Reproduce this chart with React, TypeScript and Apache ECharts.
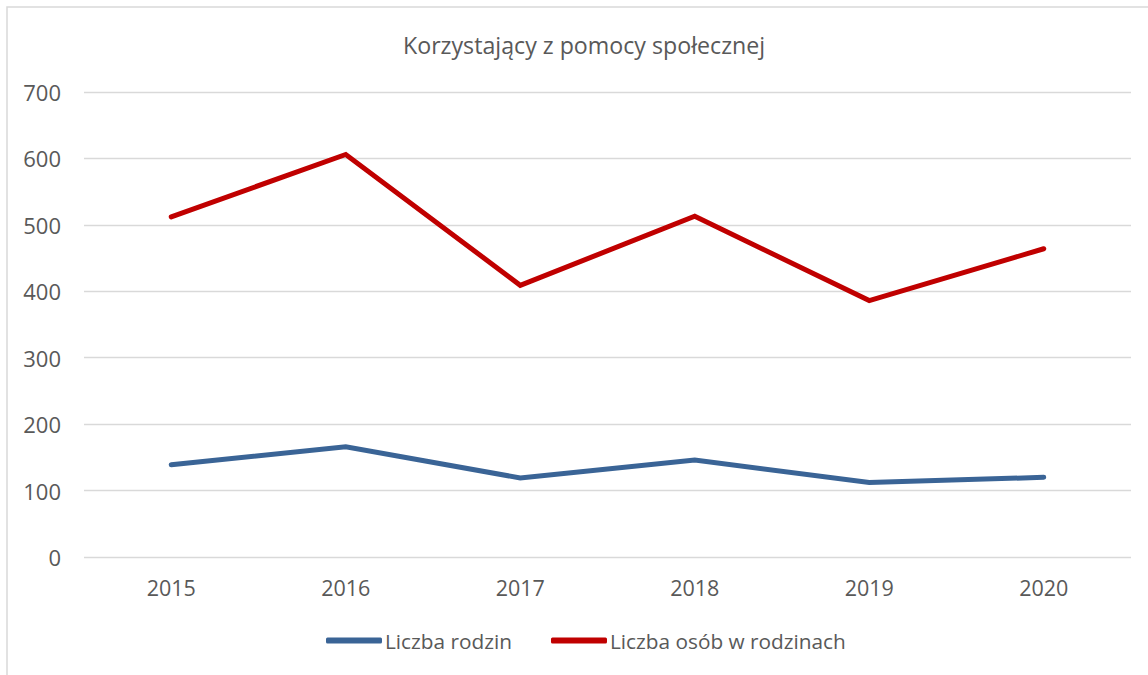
import React, { useEffect, useRef } from "react";
import * as echarts from "echarts";

const titleText = "Korzystający z pomocy społecznej";
const years = ["2015", "2016", "2017", "2018", "2019", "2020"];
const seriesNames = ["Liczba rodzin", "Liczba osób w rodzinach"];
const families = [139, 166, 119, 146, 112, 120];
const persons = [512, 606, 409, 513, 386, 464];
const colors = ["#3A6496", "#C00000"];

const FONT = "'Open Sans', 'Noto Sans', sans-serif";
const TEXT = "#595959";

export default function App() {
  const ref = useRef<HTMLDivElement>(null);
  useEffect(() => {
    if (!ref.current) return;
    const chart = echarts.init(ref.current, undefined, { renderer: "svg" });
    chart.setOption({
      animation: false,
      backgroundColor: "#ffffff",
      textStyle: { fontFamily: FONT },
      title: {
        text: titleText,
        left: 398,
        top: 28,
        textStyle: { fontFamily: FONT, fontSize: 23.2, fontWeight: "normal", color: TEXT },
      },
      graphic: [
        {
          type: "rect",
          shape: { x: 7, y: 7, width: 1160, height: 690 },
          style: { fill: "none", stroke: "#D9D9D9", lineWidth: 1.5 },
          silent: true,
        },
      ],
      legend: {
        data: seriesNames,
        top: 625,
        left: 321,
        icon: "roundRect",
        itemWidth: 56,
        itemHeight: 6,
        itemGap: 39,
        textStyle: { fontFamily: FONT, fontSize: 20.8, color: TEXT, padding: [0, 0, 0, -2] },
      },
      grid: { left: 84, right: 17, top: 92, bottom: 118, containLabel: false },
      xAxis: {
        type: "category",
        data: years,
        boundaryGap: true,
        axisLine: { show: false },
        axisTick: { show: false },
        axisLabel: { color: TEXT, fontSize: 21.5, fontFamily: FONT, margin: 19 },
      },
      yAxis: {
        type: "value",
        min: 0,
        max: 700,
        interval: 100,
        axisLine: { show: false },
        axisTick: { show: false },
        splitLine: { lineStyle: { color: "#D9D9D9", width: 1.3 } },
        axisLabel: { color: TEXT, fontSize: 22, fontFamily: FONT, margin: 23 },
      },
      series: [
        {
          name: seriesNames[0],
          type: "line",
          data: families,
          symbol: "none",
          color: colors[0],
          lineStyle: { width: 5, color: colors[0], cap: "round", join: "miter" },
        },
        {
          name: seriesNames[1],
          type: "line",
          data: persons,
          symbol: "none",
          color: colors[1],
          lineStyle: { width: 5, color: colors[1], cap: "round", join: "miter" },
        },
      ],
    });
    return () => chart.dispose();
  }, []);
  return (
    <div style={{ position: "fixed", left: 0, top: 0, width: 1148, height: 675, overflow: "hidden", background: "#fff" }}>
      <div ref={ref} style={{ width: 1148, height: 675 }} />
    </div>
  );
}
